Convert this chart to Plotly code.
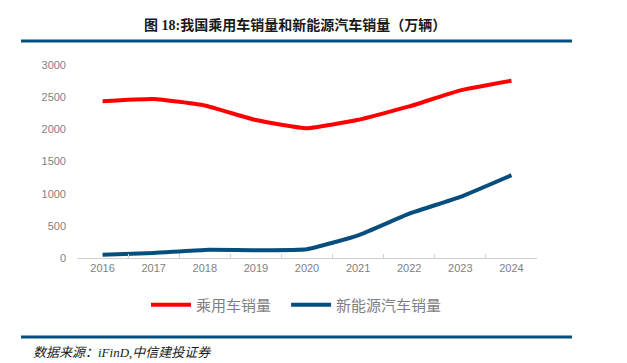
import plotly.graph_objects as go

years = ["2016", "2017", "2018", "2019", "2020", "2021", "2022", "2023", "2024"]
passenger = [2438, 2472, 2371, 2144, 2018, 2148, 2356, 2606, 2756]
nev = [51, 78, 126, 121, 137, 352, 689, 950, 1287]
series_names = ["乘用车销量", "新能源汽车销量"]
yticks = [0, 500, 1000, 1500, 2000, 2500, 3000]

OFF = 8  # page body margin
W, H = 627 - OFF, 363 - OFF
L, R, T, B = 77 - OFF, 537 - OFF, 65 - OFF, 258 - OFF
pw, ph = R - L, B - T

def px(x):
    return (x - OFF - L) / pw

def py(y):
    return (B - (y - OFF)) / ph

fig = go.Figure()
fig.add_trace(go.Scatter(x=years, y=passenger, name=series_names[0] + "\u00a0\u00a0\u00a0", mode="lines",
                         line=dict(color="#FF0000", width=4, shape="spline", smoothing=0.4)))
fig.add_trace(go.Scatter(x=years, y=nev, name=series_names[1], mode="lines",
                         line=dict(color="#054E7D", width=4, shape="spline", smoothing=0.4)))

tick_font = dict(family="Liberation Sans, Arial", size=11, color="#7f7f7f")
fig.update_layout(
    width=W, height=H,
    margin=dict(l=L, r=W - R, t=T, b=H - B),
    paper_bgcolor="white", plot_bgcolor="white",
    showlegend=True,
    legend=dict(orientation="h", x=px(146), y=py(305), xanchor="left", yanchor="middle",
                font=dict(family="Noto Sans CJK SC", size=15, color="#7f7f7f"),
                itemwidth=40, tracegroupgap=0),
    xaxis=dict(type="category", range=[-0.5, 8.5], showgrid=False, showline=True,
               linecolor="#d0d0d0", linewidth=1, ticks="inside", tickson="boundaries",
               ticklen=4, tickcolor="#d0d0d0", tickfont=tick_font, zeroline=False),
    yaxis=dict(range=[0, 3000], tickvals=yticks, showgrid=False, showline=False,
               zeroline=False, tickfont=tick_font, ticks="", ticklabelstandoff=10),
)

fig.add_annotation(text="<b>图 18:我国乘用车销量和新能源汽车销量（万辆）</b>", xref="paper", yref="paper",
                   x=px(295), y=py(25), xanchor="center", yanchor="middle", showarrow=False,
                   font=dict(family="Liberation Serif, Noto Sans CJK SC", size=14, color="#1a1a1a"))
fig.add_shape(type="line", xref="paper", yref="paper", x0=px(21), x1=px(572), y0=py(41), y1=py(41),
              line=dict(color="#054E7D", width=3))
fig.add_shape(type="line", xref="paper", yref="paper", x0=px(21), x1=px(572), y0=py(337), y1=py(337),
              line=dict(color="#054E7D", width=3))
fig.add_annotation(text="<i>数据来源：iFinD,中信建投证券</i>", xref="paper", yref="paper",
                   x=px(31), y=py(352), xanchor="left", yanchor="middle", showarrow=False,
                   font=dict(family="Liberation Serif, Noto Sans CJK SC", size=13, color="#1a1a1a"))

fig.write_html("out.html")
